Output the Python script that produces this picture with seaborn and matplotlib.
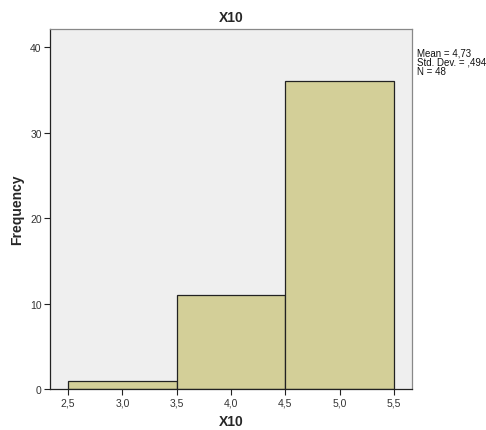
import pandas as pd
import matplotlib.pyplot as plt
import seaborn as sns

# Data
values = [3, 4, 5]
counts = [1, 11, 36]
bin_edges = [2.5, 3.5, 4.5, 5.5]
xtick_vals = [2.5, 3.0, 3.5, 4.0, 4.5, 5.0, 5.5]
ytick_vals = [0, 10, 20, 30, 40]
stats_text = "Mean = 4,73\nStd. Dev. = ,494\nN = 48"

df = pd.DataFrame({'X10': values, 'count': counts})

sns.set_style('white')
plt.rcParams['font.family'] = ['Liberation Sans', 'DejaVu Sans']

fig = plt.figure(figsize=(4.86, 4.31), dpi=100)
ax = fig.add_axes([0.103, 0.095, 0.745, 0.835])
ax.set_facecolor('#EFEFEF')

sns.histplot(data=df, x='X10', weights='count', bins=bin_edges, ax=ax,
             color='#D3CF98', alpha=1, edgecolor='#222222', linewidth=0.9)

ax.set_xlim(2.334, 5.666)
ax.set_ylim(0, 42.1)
ax.set_xticks(xtick_vals)
ax.set_xticklabels([f'{v:.1f}'.replace('.', ',') for v in xtick_vals])
ax.set_yticks(ytick_vals)
ax.tick_params(axis='both', direction='out', length=4, width=0.8,
               bottom=True, left=True,
               labelsize=7.5, colors='#222222', pad=2)
ax.tick_params(axis='both', labelcolor='#333333')

for side in ['left', 'bottom']:
    ax.spines[side].set_color('#222222')
    ax.spines[side].set_linewidth(0.9)
for side in ['top', 'right']:
    ax.spines[side].set_color('#888888')
    ax.spines[side].set_linewidth(0.9)

ax.set_title('X10', fontsize=10, fontweight='bold', pad=6)
ax.set_xlabel('X10', fontsize=10, fontweight='bold', labelpad=5)
ax.set_ylabel('Frequency', fontsize=10, fontweight='bold', labelpad=4)

fig.text(0.858, 0.888, stats_text, fontsize=7, va='top', ha='left',
         linespacing=0.95, color='#111111')

plt.savefig('out.png', dpi=100)
